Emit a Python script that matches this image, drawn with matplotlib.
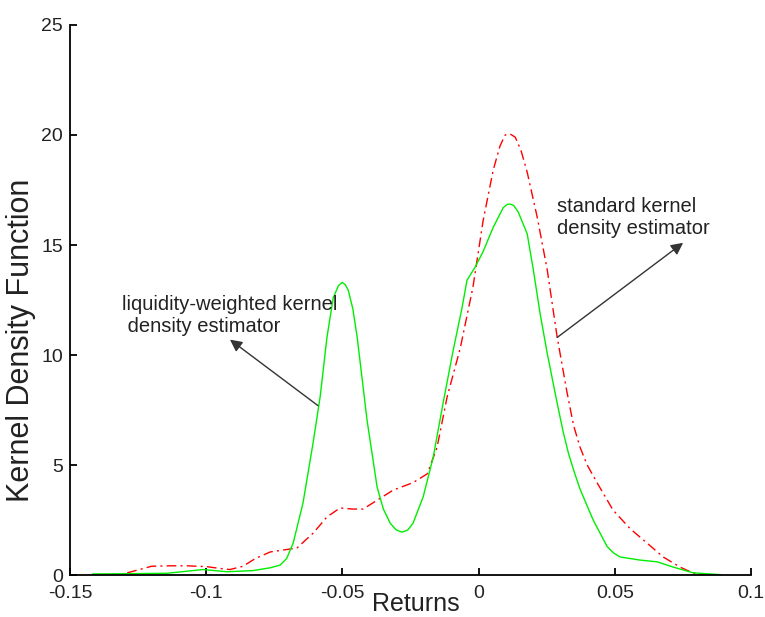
import numpy as np
import matplotlib.pyplot as plt

plt.rcParams['font.family'] = ['Liberation Sans', 'DejaVu Sans']

# liquidity-weighted kernel density estimator (green)
lw_x = [-0.1416, -0.13, -0.1144, -0.1012, -0.0924, -0.083, -0.0765, -0.0729,
        -0.0705, -0.0681, -0.0645, -0.0608, -0.0582, -0.0557, -0.0534, -0.0515,
        -0.0501, -0.049, -0.0479, -0.0462, -0.0446, -0.041, -0.0373, -0.035,
        -0.0325, -0.0303, -0.0281, -0.026, -0.0241, -0.0204, -0.0167,
        -0.0131, -0.0094, -0.0062, -0.0043, -0.0013, 0.0016, 0.0053, 0.009,
        0.0105, 0.0115, 0.0128, 0.0145, 0.0178, 0.02, 0.0225, 0.0251, 0.0288,
        0.031, 0.033, 0.035, 0.0372, 0.042, 0.0471, 0.0495, 0.0519, 0.0592,
        0.0655, 0.0714, 0.0787, 0.0886]
lw_y = [0.05, 0.06, 0.08, 0.25, 0.15, 0.2, 0.33, 0.45,
        0.75, 1.45, 3.27, 6.0, 8.1, 10.8, 12.6, 13.15,
        13.3, 13.2, 12.95, 12.1, 10.8, 7.05, 4.0, 3.0,
        2.36, 2.05, 1.95, 2.05, 2.36, 3.55, 5.36,
        7.8, 10.2, 12.1, 13.4, 14.0, 14.7, 15.8, 16.7,
        16.85, 16.86, 16.8, 16.5, 15.5, 13.9, 11.9, 10.1, 7.8,
        6.5, 5.5, 4.7, 3.9, 2.5, 1.3, 1.0, 0.82, 0.68,
        0.6, 0.36, 0.1, 0.02]

# standard kernel density estimator (red)
std_x = [-0.129, -0.12, -0.113, -0.107, -0.0997, -0.095, -0.0913, -0.0865,
         -0.082, -0.0765, -0.0667, -0.0608, -0.0557, -0.0509, -0.0465, -0.0424,
         -0.0373, -0.0314, -0.0241, -0.0189, -0.0153, -0.0116, -0.0068, -0.0021,
         0.0016, 0.0053, 0.0078, 0.0097, 0.0115, 0.0134, 0.0155, 0.0178, 0.0214,
         0.0251, 0.0288, 0.0324, 0.0348, 0.0372, 0.0398, 0.0434, 0.0493, 0.0556,
         0.0618, 0.0677, 0.0739, 0.0787, 0.083]
std_y = [0.1, 0.4, 0.42, 0.42, 0.38, 0.3, 0.25, 0.4,
         0.75, 1.05, 1.23, 1.9, 2.64, 3.05, 3.0, 3.0,
         3.4, 3.86, 4.2, 4.6, 5.8, 8.1, 10.3, 13.1,
         16.1, 18.4, 19.5, 20.0, 20.05, 19.9, 19.3, 18.3, 16.3,
         13.9, 10.8, 8.3, 6.8, 5.8, 5.0, 4.2, 2.95, 2.1,
         1.45, 0.82, 0.36, 0.09, 0.02]

xticks = [-0.15, -0.1, -0.05, 0, 0.05, 0.1]
xtick_labels = ["-0.15", "-0.1", "-0.05", "0", "0.05", "0.1"]
yticks = [0, 5, 10, 15, 20, 25]

fig = plt.figure(figsize=(7.65, 6.17), dpi=100)
ax = fig.add_axes([0.0915, 0.068, 0.8905, 0.8915])

ax.plot(std_x, std_y, color='#ff0000', lw=1.0, linestyle=(0, (7, 3, 1.5, 3)))
ax.plot(lw_x, lw_y, color='#00ee00', lw=1.0)

ax.set_xlim(-0.15, 0.1)
ax.set_ylim(0, 25)
ax.set_xticks(xticks)
ax.set_xticklabels(xtick_labels)
ax.set_yticks(yticks)

for s in ['top', 'right']:
    ax.spines[s].set_visible(False)
for s in ['left', 'bottom']:
    ax.spines[s].set_linewidth(1.3)

ax.tick_params(direction='in', length=5, width=1.3, labelsize=14,
               labelcolor='#222222')
ax.tick_params(axis='x', pad=7)
ax.tick_params(axis='y', pad=5)

ax.set_xlabel("Returns", fontsize=18, color='#222222')
ax.xaxis.set_label_coords(0.508, -0.03)
ax.set_ylabel("Kernel Density Function", fontsize=22, color='#222222')
ax.yaxis.set_label_coords(-0.05, 0.427)

# annotations
arrow = dict(arrowstyle='-|>', color='#333333', lw=1.0, mutation_scale=18,
             shrinkA=0, shrinkB=0)
ax.annotate("", xy=(0.075, 15.1), xytext=(0.0288, 10.8), arrowprops=arrow)
ax.annotate("", xy=(-0.0913, 10.7), xytext=(-0.059, 7.7), arrowprops=arrow)

ax.text(0.0288, 16.25, "standard kernel\ndensity estimator", fontsize=14.5,
        color='#222222', ha='left', va='center', linespacing=1.2)
ax.text(-0.1309, 11.8, "liquidity-weighted kernel\n density estimator",
        fontsize=14.5, color='#222222', ha='left', va='center', linespacing=1.2)

fig.savefig("out.png", dpi=100)
